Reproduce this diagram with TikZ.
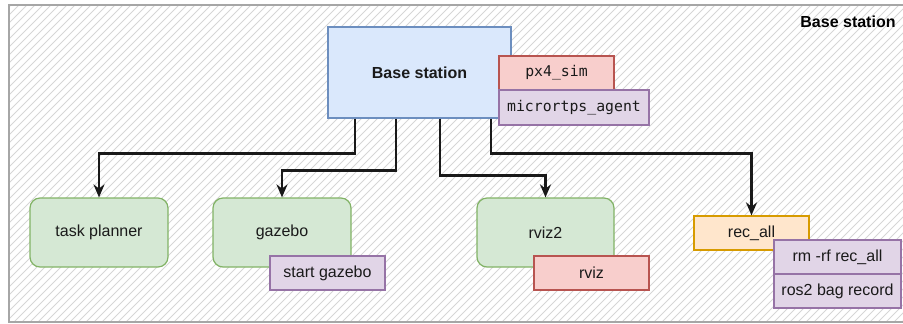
\documentclass[tikz,border=0pt]{standalone}
\usepackage{fontspec}
\setmainfont{Liberation Sans}
\setmonofont{DejaVu Sans Mono}
\usetikzlibrary{arrows.meta}

\definecolor{bluefill}{HTML}{DAE8FC}
\definecolor{blueline}{HTML}{6C8EBF}
\definecolor{greenfill}{HTML}{D5E8D4}
\definecolor{greenline}{HTML}{82B366}
\definecolor{redfill}{HTML}{F8CECC}
\definecolor{redline}{HTML}{B85450}
\definecolor{violetfill}{HTML}{E1D5E7}
\definecolor{violetline}{HTML}{9673A6}
\definecolor{orangefill}{HTML}{FFE6CC}
\definecolor{orangeline}{HTML}{D79B00}
\definecolor{hatchgray}{HTML}{D6D6D6}
\definecolor{textgray}{HTML}{1A1A1A}

\tikzset{
  box/.style={draw, line width=1.2pt, inner sep=0pt, text=textgray,
    font=\fontsize{16}{19}\selectfont},
  station/.style={box, fill=bluefill, draw=blueline, minimum width=183pt,
    minimum height=91pt, font=\fontsize{16}{19}\selectfont\bfseries},
  program/.style={box, fill=greenfill, draw=greenline, rounded corners=10pt,
    minimum width=138pt, minimum height=69pt},
  redcmd/.style={box, fill=redfill, draw=redline, minimum height=34pt},
  violetcmd/.style={box, fill=violetfill, draw=violetline, minimum height=34pt},
  orangecmd/.style={box, fill=orangefill, draw=orangeline, minimum height=34pt},
  mono/.style={font=\fontsize{14.8}{18}\ttfamily},
  arr/.style={-{Stealth[length=13pt,width=11pt]}, line width=2.3pt, black!90},
}

\begin{document}
\begin{tikzpicture}[x=1pt, y=-1pt]
  \useasboundingbox (0,0) rectangle (903,324);

  % fondo rayado del grupo
  \begin{scope}
    \clip (9,5) rectangle (920,322);
    \foreach \i in {-330,-322,...,910}
      \draw[hatchgray, line width=0.8pt] (\i,330) -- ++(340,-340);
  \end{scope}
  \draw[gray!70, line width=2.5pt] (9,5) rectangle (920,322);
  \node[font=\fontsize{16}{19}\selectfont\bfseries, text=black] (grouplabel) at (848,22) {Base station};

  % estacion base y sus comandos
  \node[station] (base) at (419.5,72.5) {Base station};
  \node[redcmd, mono, minimum width=115pt] (px4) at (556.5,73) {px4\_sim};
  \node[violetcmd, mono, minimum width=150pt, minimum height=35pt] (agent) at (574,107.5) {micrortps\_agent};

  % programas
  \node[program] (planner) at (99,232.5) {task planner};
  \node[program] (gazebo) at (282,232.5) {gazebo};
  \node[violetcmd, minimum width=115pt] (startgz) at (327.5,273) {start gazebo};
  \node[program, minimum width=137pt] (rviztwo) at (545.5,232.5) {rviz2};
  \node[redcmd, minimum width=115pt] (rviz) at (591.5,273) {rviz};
  \node[orangecmd, minimum width=115pt] (recall) at (751.5,233) {rec\_all};
  \node[violetcmd, minimum width=127pt] (rmrf) at (837.5,257) {rm -rf rec\_all};
  \node[violetcmd, minimum width=127pt] (bag) at (837.5,291) {ros2 bag record};

  % conexiones
  \draw[arr] ([xshift=-64.5pt]base.south) -- ++(0,35) -| (planner.north);
  \draw[arr] ([xshift=-23.5pt]base.south) -- ++(0,52) -| (gazebo.north);
  \draw[arr] ([xshift=20.5pt]base.south) -- ++(0,57) -| (rviztwo.north);
  \draw[arr] ([xshift=71.5pt]base.south) -- ++(0,35) -| (recall.north);
\end{tikzpicture}
\end{document}
